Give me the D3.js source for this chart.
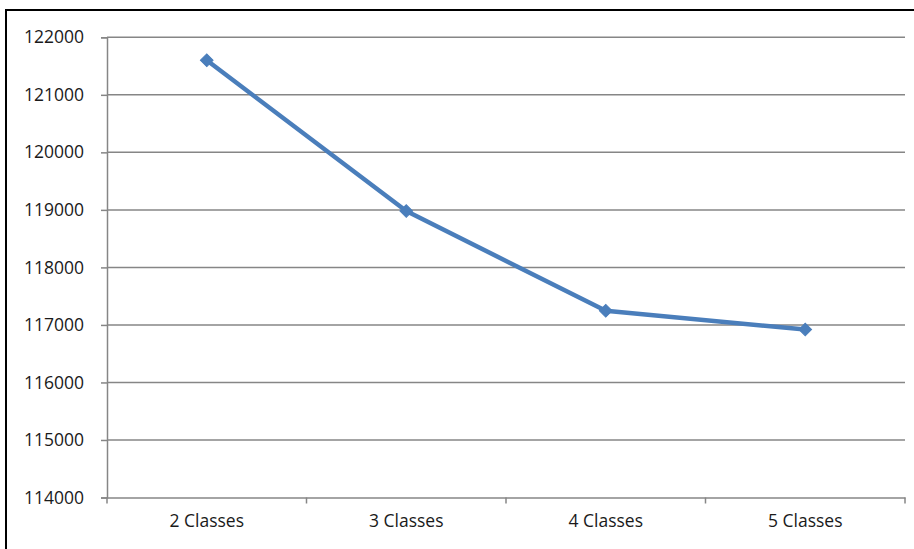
<!DOCTYPE html>
<html>
<head>
<meta charset="utf-8">
<script src="https://cdn.jsdelivr.net/npm/d3@7"></script>
<style>
  html, body { margin: 0; padding: 0; background: #fff; }
  svg { display: block; }
  text { font-family: "Open Sans", "Liberation Sans", sans-serif; fill: #1a1a1a; }
</style>
</head>
<body>
<svg id="chart" width="914" height="549"></svg>
<script>
const categories = ["2 Classes", "3 Classes", "4 Classes", "5 Classes"];
const values = [121600, 118980, 117245, 116920];
const yTicks = [114000, 115000, 116000, 117000, 118000, 119000, 120000, 121000, 122000];

(function () {
const svg = d3.select("#chart");
const W = 914, H = 549;

// outer frame (extends past right/bottom edge as in reference)
svg.append("rect")
  .attr("x", 6).attr("y", 10)
  .attr("width", W + 10).attr("height", H + 10)
  .attr("fill", "#fff")
  .attr("stroke", "#000").attr("stroke-width", 2);

const pL = 107, pR = 905, pT = 37.3, pB = 497.5;

const x = d3.scaleBand().domain(categories).range([pL, pR]).padding(0);
const y = d3.scaleLinear().domain([114000, 122000]).range([pB, pT]);

const gridColor = "#868686";

// gridlines
svg.append("g").selectAll("line").data(yTicks.filter(t => t !== 114000)).join("line")
  .attr("x1", pL).attr("x2", pR)
  .attr("y1", d => y(d)).attr("y2", d => y(d))
  .attr("stroke", gridColor).attr("stroke-width", 1.5);

// y axis
const yAxis = d3.axisLeft(y).tickValues(yTicks).tickSize(6).tickPadding(17).tickFormat(d3.format("d"));
const gy = svg.append("g").attr("transform", `translate(${pL},0)`).call(yAxis);
gy.select(".domain").attr("stroke", gridColor).attr("stroke-width", 1.5);
gy.selectAll(".tick line").attr("stroke", gridColor).attr("stroke-width", 1.5);
gy.selectAll("text").attr("font-size", "17.5px").attr("font-family", "Open Sans").attr("fill", "#1a1a1a");

// x axis
const xAxis = d3.axisBottom(x).tickSize(0).tickPadding(17);
const gx = svg.append("g").attr("transform", `translate(0,${pB})`).call(xAxis);
gx.select(".domain").attr("stroke", gridColor).attr("stroke-width", 1.5);
gx.selectAll("text").attr("font-size", "17.5px").attr("font-family", "Open Sans").attr("fill", "#1a1a1a");
// category boundary ticks
const bounds = categories.map(c => x(c)).concat([x(categories[categories.length - 1]) + x.bandwidth()]);
svg.append("g").selectAll("line").data(bounds).join("line")
  .attr("x1", d => d).attr("x2", d => d)
  .attr("y1", pB).attr("y2", pB + 6)
  .attr("stroke", gridColor).attr("stroke-width", 1.5);

// line
const pts = categories.map((c, i) => [x(c) + x.bandwidth() / 2, y(values[i])]);
const color = "#4a7ebb";
svg.append("path")
  .attr("d", d3.line()(pts))
  .attr("fill", "none").attr("stroke", color)
  .attr("stroke-width", 4.5).attr("stroke-linejoin", "round");

// diamond markers
const diamond = d3.symbol().type(d3.symbolSquare).size(80);
svg.append("g").selectAll("path").data(pts).join("path")
  .attr("d", diamond)
  .attr("transform", d => `translate(${d[0]},${d[1]}) rotate(45)`)
  .attr("fill", color).attr("stroke", color).attr("stroke-width", 1);
})();
</script>
</body>
</html>
